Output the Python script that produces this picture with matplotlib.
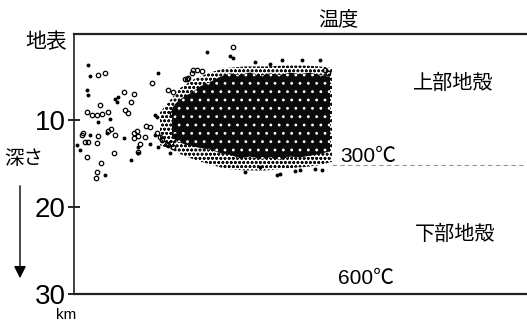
import matplotlib
matplotlib.use("Agg")
import matplotlib.pyplot as plt

plt.rcParams['font.family'] = ['Noto Sans CJK JP', 'DejaVu Sans']
plt.rcParams['hatch.linewidth'] = 0.8

# horizontal distance (arbitrary units) and depth (km) of sparse hypocentres
circle_x = [24, 31, 26, 13, 18, 23, 28, 34, 50, 60, 57, 51, 54, 78, 37, 34, 41, 9, 8, 24,
            14, 11, 23, 13, 40, 27, 23, 22, 60, 64, 71, 66, 64, 72, 76, 83, 86, 88, 94, 99,
            98, 63, 60, 159, 119, 128, 114, 111, 251, 254, 94, 99, 113, 118, 123, 93, 97]
circle_d = [4.8, 4.6, 8.2, 9.0, 9.4, 9.4, 9.3, 9.1, 6.7, 7.0, 7.9, 8.8, 9.2, 5.7, 11.0, 11.2,
            11.7, 11.5, 11.7, 11.8, 12.5, 12.5, 12.6, 14.2, 13.8, 14.9, 16.0, 16.7, 12.1, 11.8,
            11.9, 12.7, 13.7, 10.7, 10.8, 11.5, 11.9, 12.3, 12.9, 13.1, 9.2, 11.3, 11.5, 1.6,
            4.2, 4.3, 5.1, 5.3, 4.2, 4.5, 6.5, 6.8, 5.2, 4.5, 4.2, 12.7, 12.6]

dot_x = [14, 16, 13, 14, 41, 43, 44, 84, 36, 24, 33, 16, 3, 6, 57, 31, 50, 81, 76, 84,
         96, 101, 81, 83, 64, 64, 133, 156, 159, 208, 228, 246, 203, 206, 226, 248,
         171, 186, 221, 241, 181, 196]
dot_d = [3.6, 4.9, 6.5, 7.1, 7.5, 7.9, 7.3, 4.6, 9.9, 10.2, 11.5, 11.7, 12.9, 13.4, 14.6,
         16.3, 12.1, 11.7, 12.7, 13.1, 13.8, 11.7, 9.4, 9.6, 13.1, 13.8, 2.1, 2.6, 2.8, 3.0,
         3.0, 3.1, 16.3, 16.2, 15.8, 15.8, 16.0, 15.4, 15.9, 15.6, 3.3, 3.5]

# envelope of the dense swarm (dark core)
core_x = [98, 104, 111, 118, 126, 136, 146, 156, 166, 176, 186, 196, 206, 216, 226, 236, 246, 256]
core_top = [8.6, 7.8, 7.2, 6.8, 6.1, 5.6, 5.0, 4.6, 4.8, 4.5, 4.9, 4.6, 4.8, 4.5, 4.7, 4.5, 4.8, 5.0]
core_bot = [12.0, 12.5, 12.8, 13.0, 13.2, 13.4, 13.8, 14.0, 14.4, 14.2, 14.5, 14.3, 14.6, 14.2, 14.3, 14.1, 13.9, 13.6]

# envelope of the speckled fringe around it
fringe_x = [86, 96, 106, 121, 136, 151, 171, 191, 211, 231, 246, 258]
fringe_top = [9.1, 7.7, 6.3, 5.2, 4.5, 4.0, 3.8, 3.8, 3.7, 3.7, 3.8, 4.0]
fringe_bot = [12.9, 13.3, 13.9, 14.6, 15.1, 15.6, 15.8, 15.8, 15.6, 15.4, 15.2, 14.8]

depth_ticks = [10, 20, 30]
isotherm_300 = 15.2

W, H = 527, 321
fig = plt.figure(figsize=(W / 100, H / 100), dpi=100)
ax = fig.add_axes([74 / W, 1 - 293.5 / H, 1 - 74 / W, 260 / H])
ax.set_xlim(0, 453)
ax.set_ylim(30, 0)

ax.fill_between(fringe_x, fringe_top, fringe_bot, facecolor='none', edgecolor='#111111',
                hatch='oooo', linewidth=0)
ax.fill_between(core_x, core_top, core_bot, facecolor='#0a0a0a', edgecolor='white',
                hatch='..', linewidth=0)
ax.plot(circle_x, circle_d, 'o', ms=3.2, mfc='none', mec='black', mew=0.9)
ax.plot(dot_x, dot_d, 'o', ms=1.8, color='black')

ax.plot([258, 453], [isotherm_300, isotherm_300], color='#999999', lw=0.8, ls=(0, (4, 3)))

ax.spines['right'].set_visible(False)
ax.spines['top'].set_linewidth(1.6)
ax.spines['bottom'].set_linewidth(1.6)
ax.spines['left'].set_linewidth(1.2)
for s in ax.spines.values():
    s.set_color('#222222')

ax.set_xticks([])
ax.set_yticks(depth_ticks)
ax.set_yticklabels([str(t) for t in depth_ticks], family='Liberation Sans', fontsize=20)
ax.tick_params(axis='y', direction='inout', length=8, width=1.2, pad=2)

fig.text(67 / W, 1 - 42 / H, '地表', ha='right', va='center', fontsize=15)
fig.text(338 / W, 1 - 20 / H, '温度', ha='center', va='center', fontsize=14.5)
fig.text(24 / W, 1 - 159 / H, '深さ', ha='center', va='center', fontsize=14)
fig.text(66 / W, 1 - 315 / H, 'km', ha='center', va='center', fontsize=11,
         family='Liberation Sans')
fig.text(413 / W, 1 - 83 / H, '上部地殻', ha='left', va='center', fontsize=14.5)
fig.text(415 / W, 1 - 234 / H, '下部地殻', ha='left', va='center', fontsize=14.5)
fig.text(340 / W, 1 - 157 / H, '300℃', ha='left', va='center', fontsize=15,
         family=['Liberation Sans', 'Noto Sans CJK JP'])
fig.text(338 / W, 1 - 279 / H, '600℃', ha='left', va='center', fontsize=15,
         family=['Liberation Sans', 'Noto Sans CJK JP'])

ax.annotate('', xy=(20, H - 281), xycoords='figure pixels',
            xytext=(20, H - 183), textcoords='figure pixels',
            arrowprops=dict(arrowstyle='-|>', lw=1.0, color='black', mutation_scale=18),
            annotation_clip=False)

fig.savefig('out.png', dpi=100)
